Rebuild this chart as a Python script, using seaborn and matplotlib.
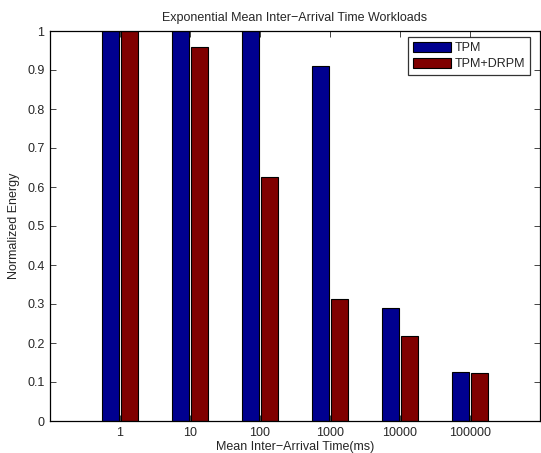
import matplotlib
matplotlib.use("Agg")
import matplotlib.pyplot as plt
import seaborn as sns
import pandas as pd

categories = ["1", "10", "100", "1000", "10000", "100000"]
tpm = [1.0, 1.0, 1.0, 0.91, 0.29, 0.125]
tpm_drpm = [1.0, 0.96, 0.625, 0.313, 0.218, 0.123]
series = ["TPM", "TPM+DRPM"]
y_ticks = [0, 0.1, 0.2, 0.3, 0.4, 0.5, 0.6, 0.7, 0.8, 0.9, 1]

df = pd.DataFrame({
    "time": categories * 2,
    "energy": tpm + tpm_drpm,
    "scheme": [series[0]] * len(categories) + [series[1]] * len(categories),
})

sns.set_style("white")
plt.rcParams["font.family"] = ["Liberation Sans", "DejaVu Sans"]
FS = 9

W, H = 541, 453
ax_l, ax_r, ax_t, ax_b = 50, 540, 31, 421
fig = plt.figure(figsize=(W / 100, H / 100), dpi=100)
ax = fig.add_axes([ax_l / W, 1 - ax_b / H, (ax_r - ax_l) / W, (ax_b - ax_t) / H])

palette = {"TPM": "#00008F", "TPM+DRPM": "#800000"}
sns.barplot(data=df, x="time", y="energy", hue="scheme", order=categories,
            hue_order=series, palette=palette, width=0.57, gap=0.15,
            edgecolor="black", linewidth=0.8, saturation=1, ax=ax, legend=True)

ax.set_xlim(-1, 6)
ax.set_ylim(0, 1)
ax.set_yticks(y_ticks)
ax.set_yticklabels([f"{t:g}" for t in y_ticks])
ax.tick_params(axis="both", direction="in", length=4, width=0.6, labelsize=FS,
               top=True, right=True, bottom=True, left=True, pad=4)
for s in ax.spines.values():
    s.set_color("black")
    s.set_linewidth(0.9)

ax.set_xlabel("Mean Inter\u2212Arrival Time(ms)", fontsize=FS, labelpad=1.5)
ax.set_ylabel("Normalized Energy", fontsize=FS, labelpad=5)
ax.set_title("Exponential Mean Inter\u2212Arrival Time Workloads", fontsize=FS, pad=7)

anchor = ((530 - ax_l) / (ax_r - ax_l), (ax_b - 37) / (ax_b - ax_t))
leg = ax.legend(loc="upper right", bbox_to_anchor=anchor, fontsize=FS,
                frameon=True, fancybox=False, edgecolor="black",
                handlelength=3.04, handleheight=0.88, borderaxespad=0,
                borderpad=0.4, labelspacing=0.25, handletextpad=0.32)
leg.get_frame().set_linewidth(0.9)

fig.savefig("out.png", dpi=100)
